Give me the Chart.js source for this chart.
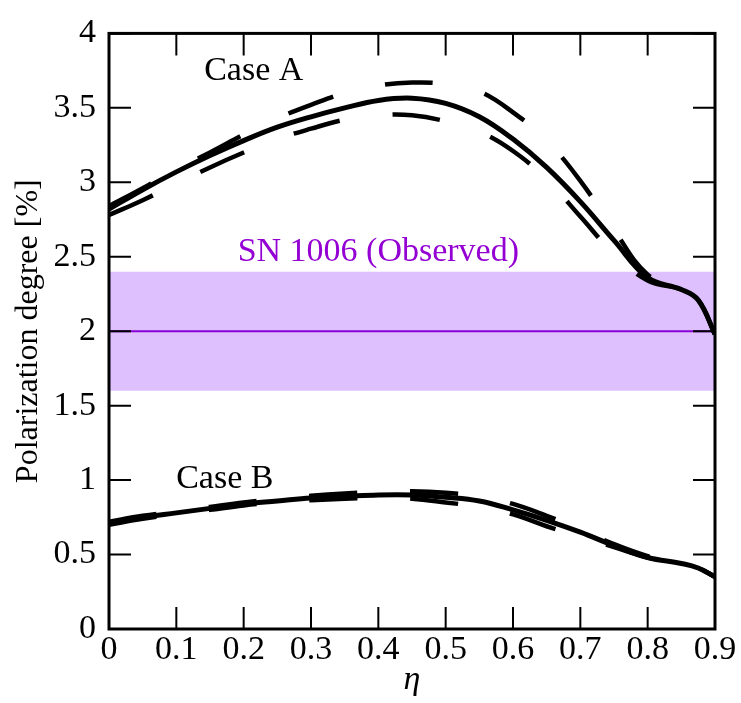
<!DOCTYPE html>
<html lang="en">
<head>
    <meta charset="UTF-8">
    <title>Polarization degree vs eta</title>
    <script src="https://cdn.jsdelivr.net/npm/chart.js"></script>
    <style>
        html, body { margin: 0; padding: 0; background: #fff; }
    </style>
</head>
<body>
    <canvas id="polChart" width="741" height="703"></canvas>

    <script>
        // eta grid shared by every curve
        const eta = [0, 0.05, 0.1, 0.15, 0.2, 0.25, 0.3, 0.35, 0.4, 0.45, 0.5, 0.55, 0.6, 0.65, 0.7, 0.75, 0.8, 0.85, 0.875, 0.9];

        // Case A
        const caseA      = [2.82, 2.95, 3.07, 3.18, 3.28, 3.37, 3.44, 3.50, 3.55, 3.565, 3.53, 3.44, 3.29, 3.10, 2.87, 2.61, 2.36, 2.28, 2.21, 1.98];
        const caseAUpper = [2.84, 2.96, 3.09, 3.20, 3.32, 3.43, 3.52, 3.60, 3.65, 3.67, 3.66, 3.61, 3.47, 3.28, 3.01, 2.68, 2.38, 2.28, 2.21, 1.98];
        const caseALower = [2.78, 2.88, 2.99, 3.10, 3.20, 3.29, 3.36, 3.42, 3.45, 3.45, 3.41, 3.34, 3.21, 3.02, 2.77, 2.52, 2.34, 2.28, 2.21, 1.98];

        // Case B
        const caseB      = [0.71, 0.75, 0.78, 0.81, 0.84, 0.86, 0.88, 0.89, 0.90, 0.90, 0.885, 0.86, 0.80, 0.73, 0.65, 0.56, 0.48, 0.44, 0.41, 0.35];
        const caseBUpper = [0.72, 0.76, 0.79, 0.82, 0.85, 0.875, 0.895, 0.91, 0.92, 0.925, 0.915, 0.89, 0.84, 0.76, 0.67, 0.57, 0.49, 0.44, 0.41, 0.35];
        const caseBLower = [0.70, 0.74, 0.77, 0.80, 0.83, 0.85, 0.865, 0.875, 0.88, 0.875, 0.85, 0.82, 0.77, 0.69, 0.62, 0.55, 0.48, 0.44, 0.41, 0.35];

        // SN 1006 observed value and its range
        const observed = 2.0;
        const observedRange = [1.6, 2.4];
        const bandX = [0, 0.9];

        // axis ticks
        const xTicks = [0, 0.1, 0.2, 0.3, 0.4, 0.5, 0.6, 0.7, 0.8, 0.9];
        const yTicks = [0, 0.5, 1, 1.5, 2, 2.5, 3, 3.5, 4];

        // text labels: [text, eta, value, colour]
        const labels = [
            ['Case A', 0.215, 3.75, '#000'],
            ['Case B', 0.172, 1.01, '#000'],
            ['SN 1006 (Observed)', 0.40, 2.53, '#9400d3']
        ];

        const SERIF = '"Liberation Serif", "Times New Roman", serif';
        const toPts = ys => eta.map((x, i) => ({ x: x, y: ys[i] }));

        function curve(ys, dashed, order) {
            return {
                data: toPts(ys),
                borderColor: '#000',
                borderWidth: dashed ? 4.5 : 5,
                borderDash: dashed ? [48, 53] : [],
                borderCapStyle: 'butt',
                pointRadius: 0,
                tension: 0.4,
                fill: false,
                order: order
            };
        }

        // frame on all four sides with inward ticks
        const framePlugin = {
            id: 'frame',
            afterDraw(chart) {
                const { ctx, chartArea: a, scales } = chart;
                const len = 22;
                ctx.save();
                ctx.strokeStyle = '#000';
                ctx.lineWidth = 2;
                ctx.beginPath();
                xTicks.forEach(v => {
                    const px = scales.x.getPixelForValue(v);
                    ctx.moveTo(px, a.bottom); ctx.lineTo(px, a.bottom - len);
                    ctx.moveTo(px, a.top); ctx.lineTo(px, a.top + len);
                });
                yTicks.forEach(v => {
                    const py = scales.y.getPixelForValue(v);
                    ctx.moveTo(a.left, py); ctx.lineTo(a.left + len, py);
                    ctx.moveTo(a.right, py); ctx.lineTo(a.right - len, py);
                });
                ctx.stroke();
                ctx.lineWidth = 3;
                ctx.strokeRect(a.left, a.top, a.right - a.left, a.bottom - a.top);
                ctx.restore();
            }
        };

        const textPlugin = {
            id: 'texts',
            afterDatasetsDraw(chart) {
                const { ctx, scales } = chart;
                ctx.save();
                ctx.font = '34px ' + SERIF;
                ctx.textAlign = 'center';
                ctx.textBaseline = 'middle';
                labels.forEach(([t, x, y, c]) => {
                    ctx.fillStyle = c;
                    ctx.fillText(t, scales.x.getPixelForValue(x), scales.y.getPixelForValue(y));
                });
                ctx.restore();
            }
        };

        new Chart(document.getElementById('polChart'), {
            type: 'line',
            data: {
                datasets: [
                    curve(caseA, false, 0),
                    curve(caseAUpper, true, 1),
                    curve(caseALower, true, 1),
                    curve(caseB, false, 0),
                    curve(caseBUpper, true, 1),
                    curve(caseBLower, true, 1),
                    {
                        data: bandX.map(x => ({ x: x, y: observed })),
                        borderColor: '#8a00d8',
                        borderWidth: 2,
                        pointRadius: 0,
                        fill: false,
                        order: 2
                    },
                    {
                        data: bandX.map(x => ({ x: x, y: observedRange[1] })),
                        borderWidth: 0,
                        borderColor: 'rgba(0,0,0,0)',
                        backgroundColor: 'rgb(222,192,255)',
                        pointRadius: 0,
                        fill: { value: observedRange[0] },
                        order: 3
                    }
                ]
            },
            options: {
                responsive: false,
                animation: false,
                events: [],
                layout: { padding: { top: 22, right: 26, left: 0, bottom: 0 } },
                plugins: {
                    legend: { display: false },
                    tooltip: { enabled: false }
                },
                scales: {
                    x: {
                        type: 'linear',
                        min: 0,
                        max: 0.9,
                        afterFit: s => { s.height = 74; },
                        afterBuildTicks: s => { s.ticks = xTicks.map(v => ({ value: v })); },
                        grid: { display: false, drawTicks: false },
                        border: { display: false },
                        ticks: {
                            font: { family: SERIF, size: 34 },
                            color: '#000',
                            padding: 1,
                            maxRotation: 0,
                            callback: v => String(v)
                        },
                        title: {
                            display: true,
                            text: 'η',
                            color: '#000',
                            font: { family: SERIF, size: 34, style: 'italic' },
                            padding: { top: 0, bottom: 3 }
                        }
                    },
                    y: {
                        min: 0,
                        max: 4,
                        afterFit: s => { s.width = 109; },
                        afterBuildTicks: s => { s.ticks = yTicks.map(v => ({ value: v })); },
                        grid: { display: false, drawTicks: false },
                        border: { display: false },
                        ticks: {
                            font: { family: SERIF, size: 34 },
                            color: '#000',
                            padding: 13,
                            callback: v => String(v)
                        },
                        title: {
                            display: true,
                            text: 'Polarization degree [%]',
                            color: '#000',
                            font: { family: SERIF, size: 32 },
                            padding: { top: 9, bottom: 0 }
                        }
                    }
                }
            },
            plugins: [framePlugin, textPlugin]
        });
    </script>
</body>
</html>
